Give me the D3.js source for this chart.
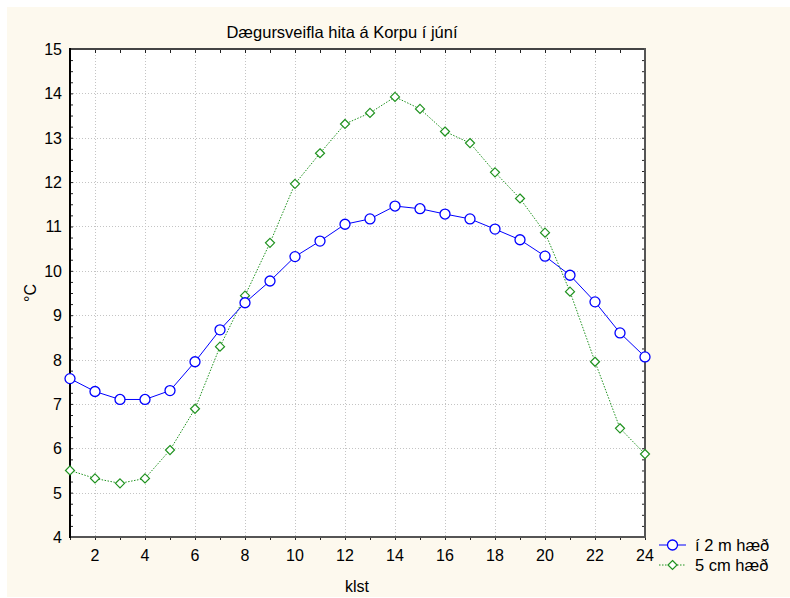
<!DOCTYPE html>
<html>
<head>
<meta charset="utf-8">
<script src="https://cdn.jsdelivr.net/npm/d3@7"></script>
<style>
  body { margin: 0; background: #fff; }
  text { font-family: "Liberation Sans", Arial, sans-serif; fill: #000; }
</style>
</head>
<body>
<svg id="chart" width="790" height="598"></svg>
<script>
// hours of the day
const hours = d3.range(1, 25);
// temperature at 2 m height
const temp2m = [7.57, 7.28, 7.1, 7.1, 7.3, 7.95, 8.67, 9.28, 9.77, 10.32, 10.67, 11.05,
                11.17, 11.46, 11.4, 11.28, 11.17, 10.94, 10.7, 10.33, 9.9, 9.3, 8.6, 8.06];
// temperature at 5 cm height
const temp5cm = [5.5, 5.32, 5.21, 5.32, 5.96, 6.89, 8.29, 9.44, 10.63, 11.96, 12.65, 13.31,
                 13.56, 13.92, 13.65, 13.14, 12.88, 12.22, 11.63, 10.86, 9.53, 7.95, 6.45, 5.87];
const xTicks = [2, 4, 6, 8, 10, 12, 14, 16, 18, 20, 22, 24];
const yTicks = [4, 5, 6, 7, 8, 9, 10, 11, 12, 13, 14, 15];
const seriesNames = ["í 2 m hæð", "5 cm hæð"];

const svg = d3.select("#chart");
const W = 790, H = 598;
const m = {left: 70, right: 645, top: 49, bottom: 537};

svg.append("rect").attr("x", 7).attr("y", 7).attr("width", W - 7).attr("height", H - 8)
   .attr("fill", "#fdf9ee");

const x = d3.scaleLinear().domain([1, 24]).range([m.left, m.right]);
const y = d3.scaleLinear().domain([4, 15]).range([m.bottom, m.top]);

svg.append("rect").attr("x", m.left).attr("y", m.top)
   .attr("width", m.right - m.left).attr("height", m.bottom - m.top).attr("fill", "#fff");

// grid
const grid = svg.append("g").attr("stroke", "#c4c4c4").attr("stroke-dasharray", "1,2").attr("stroke-width", 1);
grid.selectAll(".gx").data(xTicks.filter(d => d < 24)).join("line")
    .attr("x1", d => x(d) + 0.5).attr("x2", d => x(d) + 0.5)
    .attr("y1", m.top).attr("y2", m.bottom);
grid.selectAll(".gy").data(yTicks.filter(d => d > 4 && d < 15)).join("line")
    .attr("x1", m.left).attr("x2", m.right)
    .attr("y1", d => Math.round(y(d)) + 0.5).attr("y2", d => Math.round(y(d)) + 0.5);

// axes (ticks inward, labels drawn separately)
const minorY = d3.range(4, 15.001, 0.25);
const axL = svg.append("g").attr("transform", `translate(${m.left},0)`)
   .call(d3.axisRight(y).tickValues(minorY).tickSize(3).tickFormat(""));
const axR = svg.append("g").attr("transform", `translate(${m.right},0)`)
   .call(d3.axisLeft(y).tickValues(minorY).tickSize(3).tickFormat(""));
const axT = svg.append("g").attr("transform", `translate(0,${m.top})`)
   .call(d3.axisBottom(x).tickValues(hours).tickSize(4).tickFormat(""));
const axB = svg.append("g").attr("transform", `translate(0,${m.bottom})`)
   .call(d3.axisBottom(x).tickValues(hours).tickSize(3).tickFormat(""));
[axL, axR, axT, axB].forEach(a => {
  a.select(".domain").remove();
  a.selectAll("line").attr("stroke", "#222");
});

// frame
svg.append("line").attr("x1", m.left).attr("x2", m.right).attr("y1", m.top).attr("y2", m.top)
   .attr("stroke", "#444").attr("stroke-width", 2);
svg.append("line").attr("x1", m.left).attr("x2", m.right).attr("y1", m.bottom).attr("y2", m.bottom)
   .attr("stroke", "#555").attr("stroke-width", 2);
svg.append("line").attr("x1", m.left).attr("x2", m.left).attr("y1", m.top - 1).attr("y2", m.bottom + 1)
   .attr("stroke", "#000").attr("stroke-width", 2);
svg.append("line").attr("x1", m.right).attr("x2", m.right).attr("y1", m.top - 1).attr("y2", m.bottom + 1)
   .attr("stroke", "#555").attr("stroke-width", 2);

// tick labels
svg.selectAll(".yl").data(yTicks).join("text")
   .attr("x", m.left - 8).attr("y", d => y(d) + 6)
   .attr("text-anchor", "end").attr("font-size", 16).text(d => d);
svg.selectAll(".xl").data(xTicks).join("text")
   .attr("x", d => x(d)).attr("y", m.bottom + 24)
   .attr("text-anchor", "middle").attr("font-size", 16).text(d => d);

// titles
svg.append("text").attr("x", 342).attr("y", 38).attr("text-anchor", "middle")
   .attr("font-size", 16.5).text("Dægursveifla hita á Korpu í júní");
svg.append("text").attr("x", 357).attr("y", 592).attr("text-anchor", "middle")
   .attr("font-size", 16).text("klst");
svg.append("text").attr("transform", "translate(36,293) rotate(-90)").attr("text-anchor", "middle")
   .attr("font-size", 16).text("°C");

// series
const blue = "#0000ff", green = "#1f921f";
const line = d3.line().x((d, i) => x(hours[i])).y(d => y(d));
const diamond = d3.symbol().type(d3.symbolDiamond2).size(52);

svg.append("path").datum(temp5cm).attr("d", line).attr("fill", "none")
   .attr("stroke", green).attr("stroke-width", 1).attr("stroke-dasharray", "1.5,1.5");
svg.selectAll(".p5").data(temp5cm).join("path")
   .attr("transform", (d, i) => `translate(${x(hours[i])},${y(d)})`)
   .attr("d", diamond).attr("fill", "#fff").attr("stroke", green).attr("stroke-width", 1.2);

svg.append("path").datum(temp2m).attr("d", line).attr("fill", "none")
   .attr("stroke", blue).attr("stroke-width", 1);
svg.selectAll(".p2").data(temp2m).join("circle")
   .attr("cx", (d, i) => x(hours[i])).attr("cy", d => y(d)).attr("r", 5)
   .attr("fill", "#fff").attr("stroke", blue).attr("stroke-width", 1.3);

// legend
const lg = svg.append("g").attr("transform", "translate(659,545)");
lg.append("line").attr("x1", 0).attr("x2", 27).attr("y1", 0).attr("y2", 0).attr("stroke", blue);
lg.append("circle").attr("cx", 13.5).attr("cy", 0).attr("r", 5).attr("fill", "#fff")
  .attr("stroke", blue).attr("stroke-width", 1.3);
lg.append("line").attr("x1", 0).attr("x2", 27).attr("y1", 20).attr("y2", 20)
  .attr("stroke", green).attr("stroke-dasharray", "1.5,1.5");
lg.append("path").attr("transform", "translate(13.5,20)").attr("d", diamond)
  .attr("fill", "#fff").attr("stroke", green).attr("stroke-width", 1.2);
lg.selectAll(".lt").data(seriesNames).join("text")
  .attr("x", 36).attr("y", (d, i) => i * 20 + 6).attr("font-size", 16.5).text(d => d);
</script>
</body>
</html>
